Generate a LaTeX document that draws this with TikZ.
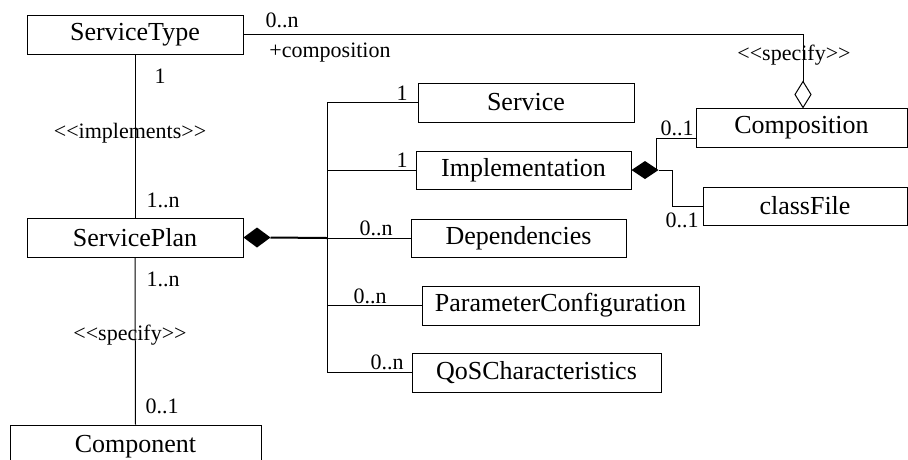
\documentclass[tikz,border=0pt]{standalone}
\usepackage{fontspec}
\newfontfamily\dfont{Liberation Serif}
\begin{document}
\begin{tikzpicture}[x=1pt,y=-1pt,
  box/.style={draw,line width=1pt,inner sep=0pt,font=\dfont\fontsize{26}{30}\selectfont},
  lbl/.style={inner sep=0pt,font=\dfont\fontsize{22}{26}\selectfont},
  conn/.style={line width=1pt}]
\useasboundingbox (0,0) rectangle (908,459);
\clip (0,0) rectangle (908,459);
% boxes
\node[box,minimum width=216pt,minimum height=39pt] (st) at (135,34.5) {ServiceType};
\node[box,minimum width=216pt,minimum height=39pt] (sp) at (135,237.5) {ServicePlan};
\node[box,minimum width=251pt,minimum height=44pt] (comp) at (135.5,447) {Component};
\node[box,minimum width=216pt,minimum height=39pt] (svc) at (526,102.5) {Service};
\node[box,minimum width=215pt,minimum height=38pt] (impl) at (523.5,170) {Implementation};
\node[box,minimum width=215pt,minimum height=38pt] (dep) at (518.5,238) {Dependencies};
\node[box,minimum width=277pt,minimum height=39pt] (pc) at (560.5,305.5) {ParameterConfiguration};
\node[box,minimum width=249pt,minimum height=39pt] (qos) at (536.5,372.5) {QoSCharacteristics};
\node[box,minimum width=211pt,minimum height=39pt] (compo) at (801.5,127.5) {Composition};
\node[box,minimum width=204pt,minimum height=38pt] (cf) at (805,206) {classFile};
% trunk coordinate
\coordinate (tr) at (327,0);
% ServiceType - Composition (aggregation)
\coordinate (cn) at ([xshift=1.5pt]compo.north);
\coordinate (cd) at ([yshift=26pt]cn);
\draw[conn,fill=white] (cn) -- ++(-8,-13) -- (cd) -- ++(8,13) -- cycle;
\draw[conn] (st.east) -| (cd);
% ServiceType - ServicePlan
\draw[conn] (st.south) -- (sp.north);
% ServicePlan - Component
\draw[conn] (sp.south) -- (comp.north);
% ServicePlan composition diamond
\coordinate (spd) at ([xshift=27pt]sp.east);
\fill (sp.east) -- ++(13.5,-10) -- (spd) -- ++(-13.5,10) -- cycle;
\draw[line width=2pt] (spd) -- (dep.west -| tr);
% trunk
\draw[conn] (svc.west) -- (svc.west -| tr) -- (qos.west -| tr) -- (qos.west);
\draw[conn] (impl.west -| tr) -- (impl.west);
\draw[conn] (dep.west -| tr) -- (dep.west);
\draw[conn] (pc.west -| tr) -- (pc.west);
% Implementation composition diamond
\coordinate (imd) at ([xshift=27pt]impl.east);
\fill (impl.east) -- ++(13.5,-9) -- (imd) -- ++(-13.5,9) -- cycle;
\draw[conn] ([xshift=25pt]impl.east) |- ([yshift=-10.5pt]compo.west);
\draw[conn] (imd) -- ++(14,0) |- (cf.west);
% labels
\node[lbl] (l1) at (282,20) {0..n};
\node[lbl] (l2) at (330,53) {+composition};
\node[lbl] (l3) at (794,55) {<<specify>>};
\node[lbl] (l4) at (160,76) {1};
\node[lbl] (l5) at (130,133) {<<implements>>};
\node[lbl] (l6) at (163,200) {1..n};
\node[lbl] (l7) at (402,93) {1};
\node[lbl] (l8) at (402,160) {1};
\node[lbl] (l9) at (677,128) {0..1};
\node[lbl] (l10) at (682,220) {0..1};
\node[lbl] (l11) at (376,228) {0..n};
\node[lbl] (l12) at (370,296) {0..n};
\node[lbl] (l13) at (387,362) {0..n};
\node[lbl] (l14) at (163,279) {1..n};
\node[lbl] (l15) at (130,335) {<<specify>>};
\node[lbl] (l16) at (162,406) {0..1};
\end{tikzpicture}
\end{document}
